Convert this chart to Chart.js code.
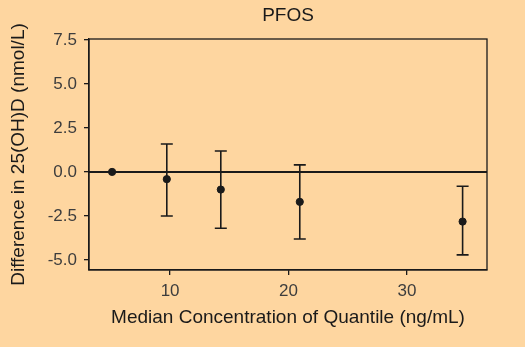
<html>
    <head>
        <title>PFOS</title>
        <script src="https://cdn.jsdelivr.net/npm/chart.js@4.4.0/dist/chart.umd.min.js"></script>
        <style>
            body { margin: 0; background: #fed6a0; }
            #wrap { width: 525px; height: 347px; }
        </style>
    </head>

    <body>
        <div id="wrap"><canvas id="pfos-chart" width="525" height="347"></canvas></div>

        <script>
            // values
            const medians = [5.1, 9.72, 14.28, 20.95, 34.7];
            const estimates = [0, -0.41, -1.0, -1.70, -2.82];
            const lowerCI = [null, -2.5, -3.2, -3.81, -4.71];
            const upperCI = [null, 1.59, 1.19, 0.40, -0.81];
            const xTicks = [10, 20, 30];
            const yTicks = [-5, -2.5, 0, 2.5, 5, 7.5];
            const chartTitle = 'PFOS';

            const ink = '#1a1a1a';
            const tickGrey = '#3d3d3d';

            // zero reference line, error bars, the box round the plot and the title
            const extras = {
                id: 'extras',
                beforeDatasetsDraw(chart) {
                    const { ctx, chartArea: a, scales: { x, y } } = chart;
                    ctx.save();
                    ctx.strokeStyle = ink;
                    ctx.lineWidth = 2;
                    const y0 = y.getPixelForValue(0);
                    ctx.beginPath();
                    ctx.moveTo(a.left, y0);
                    ctx.lineTo(a.right, y0);
                    ctx.stroke();

                    ctx.lineWidth = 1.6;
                    medians.forEach((m, i) => {
                        if (lowerCI[i] === null) return;
                        const px = x.getPixelForValue(m);
                        const lo = y.getPixelForValue(lowerCI[i]);
                        const hi = y.getPixelForValue(upperCI[i]);
                        ctx.beginPath();
                        ctx.moveTo(px, lo); ctx.lineTo(px, hi);
                        ctx.moveTo(px - 6, lo); ctx.lineTo(px + 6, lo);
                        ctx.moveTo(px - 6, hi); ctx.lineTo(px + 6, hi);
                        ctx.stroke();
                    });

                    ctx.lineWidth = 1.3;
                    ctx.strokeRect(a.left, a.top, a.right - a.left, a.bottom - a.top);

                    // title centred over the plot panel, like the original
                    ctx.fillStyle = ink;
                    ctx.font = '19px "Liberation Sans"';
                    ctx.textAlign = 'center';
                    ctx.textBaseline = 'middle';
                    ctx.fillText(chartTitle, (a.left + a.right) / 2, 16);
                    ctx.restore();
                }
            };

            const ctx = document.getElementById('pfos-chart').getContext('2d');
            new Chart(ctx, {
                type: 'scatter',
                data: {
                    datasets: [{
                        data: medians.map((m, i) => ({ x: m, y: estimates[i] })),
                        backgroundColor: ink,
                        borderColor: ink,
                        pointRadius: 3.6,
                        pointHoverRadius: 3.6
                    }]
                },
                options: {
                    responsive: false,
                    animation: false,
                    layout: { padding: { left: 0, right: 38, top: 39, bottom: 0 } },
                    plugins: {
                        legend: { display: false },
                        tooltip: { enabled: false },
                        title: { display: false }
                    },
                    scales: {
                        x: {
                            type: 'linear',
                            min: 3.15,
                            max: 36.76,
                            afterBuildTicks: s => { s.ticks = xTicks.map(v => ({ value: v })); },
                            afterFit: s => { s.height = 77; },
                            grid: { display: true, drawOnChartArea: false, drawTicks: true, tickLength: 5, color: ink, lineWidth: 1.3 },
                            border: { display: true, color: ink, width: 1.3 },
                            ticks: { color: tickGrey, padding: 6, font: { family: 'Liberation Sans', size: 17 } },
                            title: {
                                display: true,
                                text: 'Median Concentration of Quantile (ng/mL)',
                                color: ink,
                                font: { family: 'Liberation Sans', size: 19 },
                                padding: { top: 4, bottom: 18 }
                            }
                        },
                        y: {
                            type: 'linear',
                            min: -5.57,
                            max: 7.55,
                            afterBuildTicks: s => { s.ticks = yTicks.map(v => ({ value: v })); },
                            afterFit: s => { s.width = 89; },
                            grid: { display: true, drawOnChartArea: false, drawTicks: true, tickLength: 5, color: ink, lineWidth: 1.3 },
                            border: { display: true, color: ink, width: 1.3 },
                            ticks: {
                                color: tickGrey,
                                padding: 7,
                                font: { family: 'Liberation Sans', size: 17 },
                                callback: v => v.toFixed(1)
                            },
                            title: {
                                display: true,
                                text: 'Difference in 25(OH)D (nmol/L)',
                                color: ink,
                                font: { family: 'Liberation Sans', size: 19 },
                                padding: { top: 7, bottom: 0 }
                            }
                        }
                    }
                },
                plugins: [extras]
            });
        </script>
    </body>
</html>
